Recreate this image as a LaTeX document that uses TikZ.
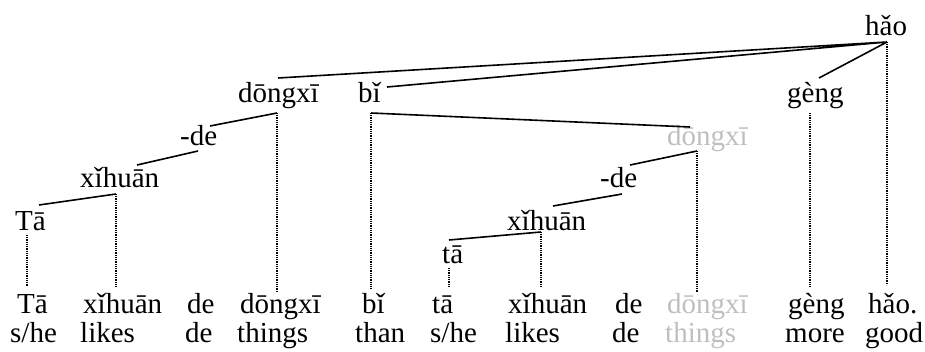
\documentclass[tikz,border=0pt]{standalone}
\usepackage{fontspec}
\setmainfont{Liberation Serif}
\usepackage{tikz}
\definecolor{trGray}{HTML}{BFBFBF}
\tikzset{
  wd/.style={anchor=base west,inner sep=0pt,font=\fontsize{29}{30}\selectfont},
  gy/.style={wd,text=trGray},
  br/.style={line width=1.6pt},
  dp/.style={line width=1.2pt,dash pattern=on 1pt off 0.8pt}
}

\begin{document}
\begin{tikzpicture}[x=1pt,y=-1pt]
\useasboundingbox (0,0) rectangle (925,351);
% gloss line
\node[wd](p1) at (17,313){Tā};     \node[wd](e1) at (10,342){s/he};
\node[wd](p2) at (83,313){xǐhuān}; \node[wd](e2) at (80,342){likes};
\node[wd](p3) at (187,313){de};    \node[wd](e3) at (185,342){de};
\node[wd](p4) at (240,313){dōngxī};\node[wd](e4) at (237,342){things};
\node[wd](p5) at (362,313){bǐ};    \node[wd](e5) at (355,342){than};
\node[wd](p6) at (432,313){tā};    \node[wd](e6) at (430,342){s/he};
\node[wd](p7) at (508,313){xǐhuān};\node[wd](e7) at (505,342){likes};
\node[wd](p8) at (615,313){de};    \node[wd](e8) at (612,342){de};
\node[gy](p9) at (667,313){dōngxī};\node[gy](e9) at (665,342){things};
\node[wd](p10) at (788,313){gèng}; \node[wd](e10) at (785,342){more};
\node[wd](p11) at (868,313){hǎo.}; \node[wd](e11) at (865,342){good};
% tree words
\node[wd](hao) at (865,35){hǎo};
\node[wd](dongxi) at (238,102){dōngxī};
\node[wd](bi) at (358,102){bǐ};
\node[wd](geng) at (787,102){gèng};
\node[wd](de) at (180,145){-de};
\node[gy](dongxiB) at (667,145){dōngxī};
\node[wd](xihuan) at (80,187){xǐhuān};
\node[wd](deB) at (600,187){-de};
\node[wd](ta) at (15,230){Tā};
\node[wd](xihuanB) at (507,230){xǐhuān};
\node[wd](taB) at (442,263){tā};
% junctions
\coordinate(haoJ) at (887,42);   \coordinate(haoE) at (887,285);
\coordinate(dongxiT) at (278,78);\coordinate(dongxiJ) at (277,113);\coordinate(dongxiE) at (277,292);
\coordinate(biT) at (387,87);    \coordinate(biJ) at (371,113);    \coordinate(biE) at (371,288);
\coordinate(gengT) at (819,78);  \coordinate(gengJ) at (810,113);  \coordinate(gengE) at (810,287);
\coordinate(deT) at (210,126);   \coordinate(deJ) at (198,151);
\coordinate(dongxiBT) at (690,127);\coordinate(dongxiBJ) at (697,151);\coordinate(dongxiBE) at (697,292);
\coordinate(xihuanT) at (137,165);\coordinate(xihuanJ) at (116,194);\coordinate(xihuanE) at (116,287);
\coordinate(deBT) at (630,165);  \coordinate(deBJ) at (622,194);
\coordinate(taT) at (39,205);    \coordinate(taJ) at (27,235);     \coordinate(taE) at (27,287);
\coordinate(xihuanBT) at (553,206);\coordinate(xihuanBJ) at (541,232);\coordinate(xihuanBE) at (541,287);
\coordinate(taBT) at (449,240);  \coordinate(taBJ) at (449,268);   \coordinate(taBE) at (449,287);
% dependencies
\draw[br](haoJ)--(dongxiT) (haoJ)--(biT) (haoJ)--(gengT);
\draw[br](dongxiJ)--(deT) (deJ)--(xihuanT) (xihuanJ)--(taT);
\draw[br](biJ)--(dongxiBT) (dongxiBJ)--(deBT) (deBJ)--(xihuanBT) (xihuanBJ)--(taBT);
% projection lines
\draw[dp](haoJ)--(haoE) (gengJ)--(gengE) (dongxiJ)--(dongxiE) (biJ)--(biE);
\draw[dp](xihuanJ)--(xihuanE) (taJ)--(taE) (dongxiBJ)--(dongxiBE);
\draw[dp](xihuanBJ)--(xihuanBE) (taBJ)--(taBE);
\end{tikzpicture}
\end{document}
